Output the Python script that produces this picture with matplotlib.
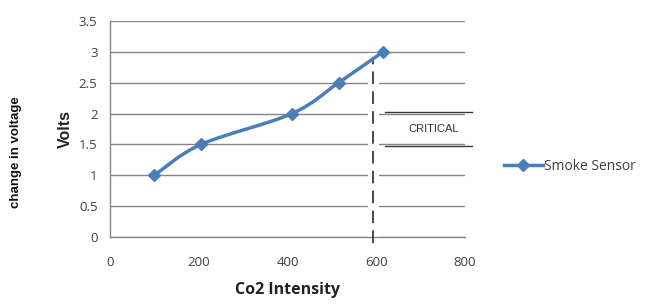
import matplotlib
matplotlib.use("Agg")
import matplotlib.pyplot as plt
from matplotlib.path import Path
from matplotlib.patches import PathPatch
from matplotlib.lines import Line2D

# Data
co2 = [100, 205, 410, 515, 615]
volts = [1.0, 1.5, 2.0, 2.5, 3.0]
critical_x = 592
critical_lo, critical_hi = 1.5, 2.0
x_ticks = [0, 200, 400, 600, 800]
y_ticks = [0, 0.5, 1, 1.5, 2, 2.5, 3, 3.5]

BLUE = "#4a7ebb"
GRID = "#868686"
TEXT = "#404040"


def smooth_path(xs, ys, tension=1 / 6):
    # Bezier through the points (like Excel "smoothed line")
    verts = [(xs[0], ys[0])]
    codes = [Path.MOVETO]
    n = len(xs)
    for i in range(n - 1):
        x0, y0 = (xs[i - 1], ys[i - 1]) if i > 0 else (xs[i], ys[i])
        x1, y1 = xs[i], ys[i]
        x2, y2 = xs[i + 1], ys[i + 1]
        x3, y3 = (xs[i + 2], ys[i + 2]) if i + 2 < n else (x2, y2)
        c1 = (x1 + (x2 - x0) * tension, y1 + (y2 - y0) * tension)
        c2 = (x2 - (x3 - x1) * tension, y2 - (y3 - y1) * tension)
        verts += [c1, c2, (x2, y2)]
        codes += [Path.CURVE4] * 3
    return Path(verts, codes)


fig = plt.figure(figsize=(6.49, 3.05), dpi=100)
ax = fig.add_axes([0.1695, 0.223, 0.547, 0.708])

ax.set_xlim(0, 800)
ax.set_ylim(0, 3.5)
ax.set_xticks(x_ticks)
ax.set_yticks(y_ticks)
ax.set_yticklabels(["0", "0.5", "1", "1.5", "2", "2.5", "3", "3.5"])
ax.tick_params(length=0, labelsize=9.5, labelcolor=TEXT, pad=9)
ax.tick_params(axis="x", pad=14)
for lab in ax.get_xticklabels() + ax.get_yticklabels():
    lab.set_family("Open Sans")

ax.grid(axis="y", color=GRID, linewidth=1)
ax.set_axisbelow(True)
for s in ["top", "right"]:
    ax.spines[s].set_visible(False)
for s in ["left", "bottom"]:
    ax.spines[s].set_color(GRID)
    ax.spines[s].set_linewidth(1)

# critical threshold: white gap + dashed line
ax.plot([critical_x, critical_x], [-0.1, volts[-1] - 0.1], color="white",
        linewidth=8, clip_on=False, zorder=2)
ax.plot([critical_x, critical_x], [-0.1, volts[-1] - 0.1], color="#3a3a3a",
        linewidth=1.3, dashes=(7, 4), clip_on=False, zorder=3)

# critical band lines and label
ax.plot([620, 815], [critical_hi + 0.02, critical_hi + 0.02], color="#3a3a3a",
        linewidth=1, clip_on=False, zorder=3)
ax.plot([620, 815], [critical_lo - 0.03, critical_lo - 0.03], color="#3a3a3a",
        linewidth=1, clip_on=False, zorder=3)
ax.text(730, (critical_lo + critical_hi) / 2, "CRITICAL", ha="center",
        va="center", fontsize=8, color="#333333", family="Liberation Sans")

ax.add_patch(PathPatch(smooth_path(co2, volts), facecolor="none",
                       edgecolor=BLUE, linewidth=2.5, zorder=4,
                       capstyle="round"))
ax.plot(co2, volts, linestyle="none", marker="D", markersize=6.5,
        color=BLUE, zorder=5)

ax.set_ylabel("Volts", fontsize=11.5, fontweight="bold", color="#222222",
              family="Liberation Sans", labelpad=4)
ax.set_xlabel("Co2 Intensity", fontsize=11.5, fontweight="bold",
              color="#222222", family="Open Sans", labelpad=9)
fig.text(0.024, 0.5, "change in voltage", rotation=90, ha="center",
         va="center", fontsize=9.5, fontweight="bold", color="#111111",
         family="Liberation Sans")

handle = Line2D([], [], color=BLUE, linewidth=2.5, marker="D", markersize=6)
fig.legend([handle], ["Smoke Sensor"], loc="center left",
           bbox_to_anchor=(0.757, 0.455), frameon=False, handlelength=2.8,
           handletextpad=0.1, prop={"family": "Open Sans", "size": 10},
           labelcolor=TEXT)

fig.savefig("out.png", dpi=100)
